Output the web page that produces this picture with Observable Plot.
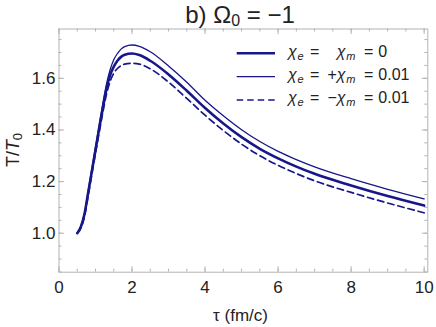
<!DOCTYPE html>
<html>
<head>
<meta charset="utf-8">
<script src="https://cdn.jsdelivr.net/npm/d3@7"></script>
<script src="https://cdn.jsdelivr.net/npm/@observablehq/plot@0.6"></script>
<style>
  html, body { margin: 0; padding: 0; background: #fff; }
  #wrap { width: 436px; height: 327px; position: relative; overflow: hidden; font-family: "Liberation Sans", Arial, sans-serif; }
  svg { display: block; }
</style>
</head>
<body>
<div id="wrap"></div>
<script>
// ---- data ----
const tau    = [0.5, 0.6, 0.7, 0.8, 0.9, 1.0, 1.1, 1.2, 1.3, 1.4, 1.5, 1.6, 1.7, 1.8, 2.0, 2.2, 2.5, 3.0, 3.5, 4.0, 4.5, 5.0, 5.5, 6.0, 6.5, 7.0, 8.0, 9.0, 10.0];
const tZero  = [1.000, 1.025, 1.075, 1.158, 1.240, 1.322, 1.405, 1.485, 1.558, 1.612, 1.645, 1.668, 1.683, 1.691, 1.696, 1.690, 1.668, 1.615, 1.552, 1.485, 1.425, 1.372, 1.327, 1.290, 1.258, 1.230, 1.185, 1.144, 1.107];
const tPlus  = [1.000, 1.028, 1.080, 1.165, 1.250, 1.335, 1.420, 1.502, 1.577, 1.633, 1.672, 1.696, 1.713, 1.723, 1.729, 1.724, 1.703, 1.648, 1.585, 1.515, 1.455, 1.401, 1.355, 1.317, 1.285, 1.257, 1.211, 1.170, 1.133];
const tMinus = [1.000, 1.020, 1.065, 1.145, 1.228, 1.310, 1.390, 1.468, 1.538, 1.588, 1.620, 1.638, 1.649, 1.655, 1.658, 1.655, 1.637, 1.585, 1.522, 1.457, 1.398, 1.345, 1.300, 1.263, 1.231, 1.203, 1.158, 1.117, 1.079];

const xMajor = [0, 2, 4, 6, 8, 10];
const xMinor = d3.range(0, 10.01, 0.5);
const yMajor = [1.0, 1.2, 1.4, 1.6];
const yLabels = ["1.0", "1.2", "1.4", "1.6"];
const yMinor = d3.range(0.85, 1.76, 0.05).map(v => +v.toFixed(2));

const seriesLabels = [
  {sign: "",  value: "0"},
  {sign: "+", value: "0.01"},
  {sign: "−", value: "0.01"}
];

// ---- layout ----
const W = 436, H = 327;
const mL = 58.5, mR = 8.7, mT = 28.5, mB = 55.3;
const plotW = W - mL - mR, plotH = H - mT - mB;
const navy = "#17178a";
const gray = "#b4b4b4";
const majorLen = 5.5, minorLen = 3;
const font = "Liberation Sans, Arial, sans-serif";

const rows = (ys) => tau.map((t, i) => ({tau: t, T: ys[i]}));

const chart = Plot.plot({
  width: W, height: H,
  marginLeft: mL, marginRight: mR, marginTop: mT, marginBottom: mB,
  style: {fontFamily: font, fontSize: "17px", color: "#222", background: "#fff"},
  x: {domain: [0, 10.1]},
  y: {domain: [0.849, 1.791]},
  marks: [
    // ticks (inward, on all four sides)
    Plot.ruleX(xMinor, {x: d => d, insetTop: plotH - minorLen, stroke: gray}),
    Plot.ruleX(xMinor, {x: d => d, insetBottom: plotH - minorLen, stroke: gray}),
    Plot.ruleX(xMajor, {x: d => d, insetTop: plotH - majorLen, stroke: gray}),
    Plot.ruleX(xMajor, {x: d => d, insetBottom: plotH - majorLen, stroke: gray}),
    Plot.ruleY(yMinor, {y: d => d, insetRight: plotW - minorLen, stroke: gray}),
    Plot.ruleY(yMinor, {y: d => d, insetLeft: plotW - minorLen, stroke: gray}),
    Plot.ruleY(yMajor, {y: d => d, insetRight: plotW - majorLen, stroke: gray}),
    Plot.ruleY(yMajor, {y: d => d, insetLeft: plotW - majorLen, stroke: gray}),
    Plot.frame({stroke: gray}),
    Plot.axisX({ticks: xMajor, tickSize: 0, tickPadding: 8.5, label: null, tickFormat: d => String(d)}),
    Plot.axisY({ticks: yMajor, tickSize: 0, tickPadding: 3.5, label: null, tickFormat: (d, i) => yLabels[i]}),
    Plot.line(rows(tMinus), {x: "tau", y: "T", stroke: navy, strokeWidth: 1.7, strokeDasharray: "6.5,4", curve: "monotone-x"}),
    Plot.line(rows(tPlus), {x: "tau", y: "T", stroke: navy, strokeWidth: 1.3, curve: "monotone-x"}),
    Plot.line(rows(tZero), {x: "tau", y: "T", stroke: navy, strokeWidth: 2.6, curve: "monotone-x"})
  ]
});
document.getElementById("wrap").appendChild(chart);

const svg = d3.select(chart);

// title
const tt = svg.append("text").attr("x", 240).attr("y", 23.3).attr("text-anchor", "middle")
  .attr("font-family", font).attr("font-size", 24).attr("fill", "#222");
tt.append("tspan").text("b) Ω");
tt.append("tspan").attr("font-size", 16).attr("dy", 2.5).text("0");
tt.append("tspan").attr("dy", -2.5).text(" = −1");

// axis labels
svg.append("text").attr("x", 240.5).attr("y", 321).attr("text-anchor", "middle")
  .attr("font-family", font).attr("font-size", 17).attr("fill", "#222").text("τ (fm/c)");
const yl = svg.append("text").attr("transform", `translate(19,150) rotate(-90)`).attr("text-anchor", "middle")
  .attr("font-family", font).attr("font-size", 18).attr("fill", "#222");
yl.append("tspan").text("T/");
yl.append("tspan").attr("font-style", "italic").text("T");
yl.append("tspan").attr("font-size", 13).attr("dy", 3).text("0");

// legend
const styles = [
  {w: 2.6, dash: null},
  {w: 1.3, dash: null},
  {w: 1.7, dash: "6.5,4"}
];
const lineY = [53.3, 76.7, 100];
const textY = [56.7, 80, 102.7];
seriesLabels.forEach((s, i) => {
  const st = styles[i];
  const ln = svg.append("line").attr("x1", 236.7).attr("x2", 275).attr("y1", lineY[i]).attr("y2", lineY[i])
    .attr("stroke", navy).attr("stroke-width", st.w);
  if (st.dash) ln.attr("stroke-dasharray", st.dash);
  const g = svg.append("g").attr("font-family", font).attr("font-size", 16).attr("fill", "#222").attr("text-anchor", "start");
  const y = textY[i];
  g.append("text").attr("x", 288).attr("y", y).attr("font-style", "italic").text("χ");
  g.append("text").attr("x", 297.5).attr("y", y + 3).attr("font-size", 11).attr("font-style", "italic").text("e");
  g.append("text").attr("x", 310).attr("y", y).text("=");
  if (s.sign) g.append("text").attr("x", 327.5).attr("y", y).text(s.sign);
  g.append("text").attr("x", 336.7).attr("y", y).attr("font-style", "italic").text("χ");
  g.append("text").attr("x", 346.2).attr("y", y + 3).attr("font-size", 11).attr("font-style", "italic").text("m");
  g.append("text").attr("x", 364).attr("y", y).text("=");
  g.append("text").attr("x", 378.3).attr("y", y).text(s.value);
});
</script>
</body>
</html>
